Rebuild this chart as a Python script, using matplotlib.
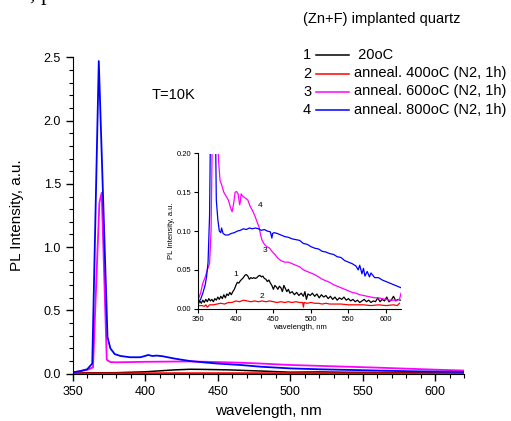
import matplotlib
matplotlib.use("Agg")
import matplotlib.pyplot as plt
from matplotlib.lines import Line2D
from matplotlib.ticker import MultipleLocator

plt.rcParams['font.family'] = ['Liberation Sans', 'DejaVu Sans']

# ---- main panel data (wavelength nm, PL intensity a.u.) ----
wl_blue = [350, 355, 360, 363.5, 368, 374, 376, 379, 383, 389.5, 396.5, 400, 402, 405, 408, 412,
           420, 431, 440, 450, 465.6, 480, 500, 520, 540, 560, 580, 600, 620]
pl_blue = [0.01, 0.02, 0.035, 0.08, 2.47, 0.29, 0.2, 0.155, 0.14, 0.13, 0.13, 0.14, 0.148, 0.14, 0.143, 0.138,
           0.12, 0.1, 0.09, 0.08, 0.069, 0.055, 0.042, 0.035, 0.03, 0.025, 0.02, 0.017, 0.014]

wl_mag = [350, 355, 360, 364, 368.4, 370, 373.5, 376, 380, 390, 400, 431, 450, 465.6, 480,
          500, 520, 540, 560, 580, 600, 620]
pl_mag = [0.01, 0.02, 0.03, 0.05, 1.35, 1.43, 0.11, 0.092, 0.09, 0.092, 0.094, 0.097, 0.092, 0.087, 0.08,
          0.069, 0.062, 0.055, 0.048, 0.04, 0.032, 0.025]

wl_black = [350, 360, 380, 400, 408, 420, 431, 440, 458.6, 470, 480, 500, 520, 540, 560, 580, 600, 620]
pl_black = [0.005, 0.007, 0.008, 0.015, 0.021, 0.03, 0.035, 0.034, 0.03, 0.025, 0.021, 0.012, 0.014, 0.011,
            0.01, 0.009, 0.008, 0.008]

wl_red = [350, 380, 420, 460, 500, 540, 580, 620]
pl_red = [0.002, 0.003, 0.004, 0.004, 0.004, 0.003, 0.003, 0.003]

# ---- inset data ----
in_wl_blue = [350, 353, 356, 359, 361, 363, 365, 367, 370, 372, 374, 376, 378, 380, 381, 383, 386, 390,
              394, 398, 402, 406, 410, 414, 418, 422, 426, 430, 434, 438, 442, 446, 448, 449, 451, 455,
              460, 465, 470, 475, 480, 485, 490, 495, 500, 505, 510, 515, 520, 525, 530, 535, 540, 545,
              550, 555, 560, 563, 565, 568, 570, 572, 575, 578, 580, 585, 590, 595, 600, 605, 610, 615, 620]
in_pl_blue = [0.009, 0.012, 0.02, 0.03, 0.041, 0.06, 0.12, 0.3, 0.5, 0.3, 0.14, 0.115, 0.1, 0.098, 0.104,
              0.097, 0.095, 0.095, 0.097, 0.098, 0.1, 0.101, 0.103, 0.102, 0.104, 0.103, 0.104, 0.103, 0.101,
              0.102, 0.1, 0.099, 0.091, 0.097, 0.098, 0.097, 0.095, 0.093, 0.092, 0.09, 0.089, 0.088, 0.084,
              0.083, 0.08, 0.078, 0.077, 0.074, 0.073, 0.071, 0.07, 0.067, 0.066, 0.062, 0.06, 0.058, 0.055,
              0.05, 0.056, 0.045, 0.052, 0.042, 0.048, 0.041, 0.046, 0.04, 0.04, 0.037, 0.035, 0.033, 0.031,
              0.029, 0.027]

in_wl_mag = [350, 353, 356, 359, 362, 365, 367, 369, 372, 375, 377, 379, 381, 384, 387, 390, 393, 395,
             397, 399, 401, 403, 405, 406, 407, 409, 412, 416, 419, 423, 426, 429, 431, 433, 435, 438,
             441, 445, 448, 452, 456, 460, 465, 470, 475, 480, 485, 490, 495, 500, 505, 510, 515, 520,
             525, 530, 535, 540, 545, 550, 555, 560, 565, 570, 575, 580, 585, 590, 595, 600, 605, 610,
             615, 618, 620]
in_pl_mag = [0.012, 0.02, 0.033, 0.04, 0.05, 0.058, 0.1, 0.25, 0.4, 0.25, 0.19, 0.165, 0.16, 0.15, 0.145,
             0.14, 0.13, 0.125, 0.135, 0.15, 0.151, 0.148, 0.134, 0.138, 0.148, 0.145, 0.143, 0.14, 0.132,
             0.125, 0.118, 0.11, 0.105, 0.095, 0.088, 0.083, 0.08, 0.078, 0.074, 0.07, 0.065, 0.062, 0.06,
             0.06, 0.058, 0.056, 0.054, 0.05, 0.048, 0.046, 0.044, 0.041, 0.038, 0.036, 0.034, 0.031, 0.029,
             0.027, 0.025, 0.023, 0.021, 0.02, 0.018, 0.017, 0.016, 0.015, 0.014, 0.014, 0.013, 0.012,
             0.011, 0.011, 0.011, 0.012, 0.02]

in_wl_black = [350, 352, 354, 356, 358, 360, 362, 364, 366, 368, 370, 372, 374, 376, 378, 380, 382, 384,
               386, 388, 390, 392, 394, 396, 398, 400, 402, 404, 406, 408, 410, 412, 414, 416, 418, 420,
               422, 424, 426, 428, 430, 432, 434, 436, 438, 440, 442, 444, 446, 448, 450, 452, 454, 456,
               458, 460, 462, 464, 466, 468, 470, 472, 475, 478, 481, 484, 487, 490, 492, 494, 496, 499,
               502, 505, 508, 511, 514, 517, 520, 523, 526, 529, 532, 535, 538, 541, 544, 547, 550, 553,
               556, 559, 562, 565, 568, 571, 574, 577, 580, 583, 586, 589, 592, 595, 598, 601, 604, 607,
               610, 613, 616, 619]
in_pl_black = [0.006, 0.01, 0.007, 0.011, 0.008, 0.012, 0.009, 0.013, 0.01, 0.012, 0.009, 0.013, 0.011,
               0.015, 0.012, 0.016, 0.013, 0.018, 0.014, 0.019, 0.017, 0.021, 0.018, 0.022, 0.025, 0.03,
               0.034, 0.033, 0.036, 0.038, 0.04, 0.043, 0.044, 0.042, 0.038, 0.04, 0.039, 0.04, 0.039, 0.04,
               0.042, 0.043, 0.041, 0.042, 0.039, 0.038, 0.035, 0.037, 0.033, 0.03, 0.025, 0.03, 0.028, 0.025,
               0.029, 0.027, 0.022, 0.03, 0.026, 0.022, 0.025, 0.02, 0.022, 0.018, 0.021, 0.017, 0.02, 0.016,
               0.022, 0.012, 0.019, 0.017, 0.02, 0.016, 0.019, 0.014, 0.018, 0.015, 0.017, 0.013, 0.016,
               0.012, 0.015, 0.011, 0.014, 0.012, 0.015, 0.011, 0.013, 0.01, 0.012, 0.009, 0.011, 0.008,
               0.01, 0.012, 0.009, 0.011, 0.008, 0.01, 0.009, 0.014, 0.009, 0.012, 0.01, 0.015, 0.009,
               0.011, 0.016, 0.01, 0.012, 0.011]

in_wl_red = [350, 355, 358, 360, 362, 365, 370, 375, 380, 385, 390, 395, 400, 405, 410, 415, 420, 425,
             430, 435, 440, 445, 450, 455, 460, 465, 470, 475, 480, 485, 489, 490, 491, 495, 500, 505,
             510, 515, 520, 525, 530, 540, 550, 560, 570, 580, 590, 600, 610, 615, 618]
in_pl_red = [0.004, 0.004, 0.003, 0.005, 0.002, 0.005, 0.005, 0.006, 0.007, 0.006, 0.008, 0.008, 0.01,
             0.009, 0.011, 0.01, 0.009, 0.01, 0.009, 0.01, 0.009, 0.01, 0.009, 0.008, 0.009, 0.008, 0.009,
             0.008, 0.009, 0.008, 0.008, 0.002, 0.008, 0.007, 0.008, 0.007, 0.007, 0.006, 0.007, 0.006,
             0.006, 0.006, 0.005, 0.005, 0.005, 0.004, 0.005, 0.004, 0.005, 0.004, 0.007]

legend_nums = ["1", "2", "3", "4"]
legend_labels = [" 20oC", "anneal. 400oC (N2, 1h)", "anneal. 600oC (N2, 1h)", "anneal. 800oC (N2, 1h)"]
colors = ["black", "#ff0000", "#ff00ff", "#0000ff"]

W, H = 511, 421
fig = plt.figure(figsize=(W / 100, H / 100), dpi=100)


def fx(px):
    return px / W


def fy(py):
    return 1 - py / H


# main axes
ax = fig.add_axes([fx(72.7), fy(373.7), fx(464 - 72.7), (373.7 - 57.3) / H])
ax.plot(wl_black, pl_black, color=colors[0], lw=1.1)
ax.plot(wl_red, pl_red, color=colors[1], lw=1.4)
ax.plot(wl_mag, pl_mag, color=colors[2], lw=1.3)
ax.plot(wl_blue, pl_blue, color=colors[3], lw=1.3)
ax.set_xlim(350, 620)
ax.set_ylim(0, 2.5)
for s in ["top", "right"]:
    ax.spines[s].set_visible(False)
ax.xaxis.set_major_locator(MultipleLocator(50))
ax.xaxis.set_minor_locator(MultipleLocator(10))
ax.yaxis.set_major_locator(MultipleLocator(0.5))
ax.yaxis.set_minor_locator(MultipleLocator(0.1))
ax.tick_params(which="major", direction="out", length=5, width=1, labelsize=9)
ax.tick_params(which="minor", direction="out", length=3, width=0.8)
ax.set_xlabel("wavelength, nm", fontsize=11)
ax.set_ylabel("PL Intensity, a.u.", fontsize=11)
ax.xaxis.set_label_coords(0.5, -0.095)
ax.yaxis.set_label_coords(-0.125, 0.5)
ax.text(fx(152), fy(95), "T=10K", transform=fig.transFigure, fontsize=10.5, va="center")

# inset
ax2 = fig.add_axes([fx(198.3), fy(308.7), fx(401 - 198.3), (308.7 - 153.5) / H])
ax2.plot(in_wl_black, in_pl_black, color=colors[0], lw=0.9)
ax2.plot(in_wl_red, in_pl_red, color=colors[1], lw=0.9)
ax2.plot(in_wl_mag, in_pl_mag, color=colors[2], lw=0.9)
ax2.plot(in_wl_blue, in_pl_blue, color=colors[3], lw=0.9)
ax2.set_xlim(350, 620)
ax2.set_ylim(0, 0.2)
for s in ["top", "right"]:
    ax2.spines[s].set_visible(False)
ax2.xaxis.set_major_locator(MultipleLocator(50))
ax2.yaxis.set_major_locator(MultipleLocator(0.05))
ax2.yaxis.set_major_formatter(matplotlib.ticker.FormatStrFormatter("%.2f"))
ax2.tick_params(direction="out", length=3, width=0.8, labelsize=5.5, pad=2)
ax2.set_xlabel("wavelength, nm", fontsize=5.5)
ax2.set_ylabel("PL Intensity, a.u.", fontsize=5.5)
ax2.xaxis.set_label_coords(0.5, -0.1)
ax2.yaxis.set_label_coords(-0.115, 0.5)
for num, (px, py) in zip(["4", "3", "1", "2"], [(260, 205), (265, 251), (235.5, 274), (261.5, 296)]):
    fig.text(fx(px), fy(py), num, fontsize=6, ha="center", va="center")

# legend block, drawn by hand
fig.text(fx(302.5), fy(18.5), "(Zn+F) implanted quartz", fontsize=10.5, va="center")
rows_y = [55, 73.5, 91.5, 110]
for num, lab, c, ry in zip(legend_nums, legend_labels, colors, rows_y):
    fig.text(fx(303), fy(ry), num, fontsize=10.5, va="center")
    fig.add_artist(Line2D([fx(316), fx(349)], [fy(ry), fy(ry)], color=c, lw=1.1,
                          transform=fig.transFigure))
    fig.text(fx(354), fy(ry), lab, fontsize=10.5, va="center")

# fragment of page text cut at the top edge
fig.text(fx(30), 1.0, ", p", family="Liberation Serif", fontsize=16, va="baseline")

fig.savefig("out.png", dpi=100)
